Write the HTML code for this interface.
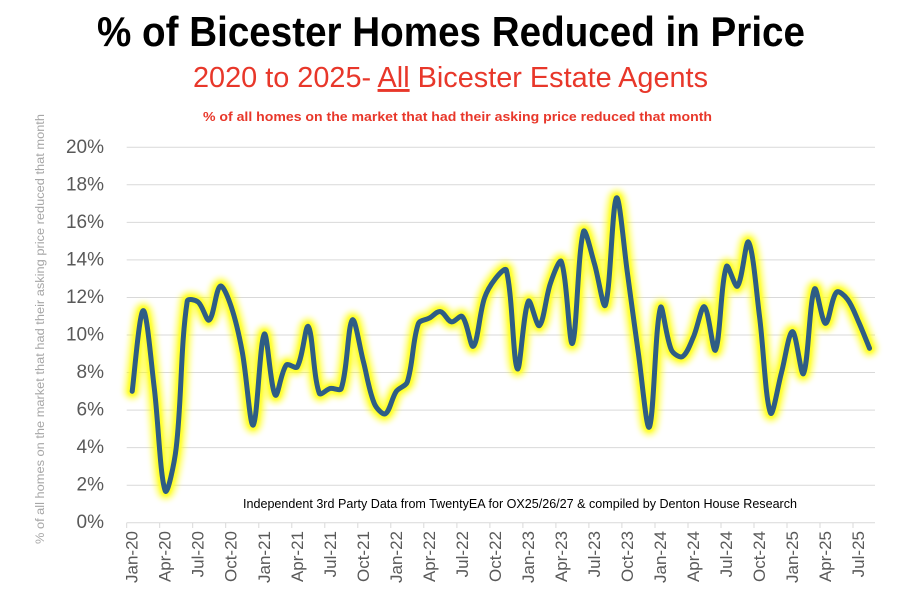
<!DOCTYPE html>
<html>
<head>
<meta charset="utf-8">
<style>
  html, body { margin: 0; padding: 0; background: #ffffff; }
  body { width: 901px; height: 606px; overflow: hidden; }
  svg { display: block; font-family: "Liberation Sans", Arial, sans-serif; }
</style>
</head>
<body>
<svg id="chart" width="901" height="606" viewBox="0 0 901 606" xmlns="http://www.w3.org/2000/svg">
  <defs>
    <filter id="glow1" x="-10%" y="-10%" width="120%" height="120%">
      <feGaussianBlur stdDeviation="2.6"/>
    </filter>
    <filter id="glow2" x="-10%" y="-10%" width="120%" height="120%">
      <feGaussianBlur stdDeviation="1.2"/>
    </filter>
  </defs>
  <rect x="0" y="0" width="901" height="606" fill="#ffffff"/>

  <!-- Titles -->
  <text x="97" y="46" font-size="42" font-weight="bold" fill="#000000" textLength="708" lengthAdjust="spacingAndGlyphs">% of Bicester Homes Reduced in Price</text>
  <text x="193" y="87" font-size="29" fill="#e8372a" textLength="515" lengthAdjust="spacingAndGlyphs">2020 to 2025- <tspan style="text-decoration:underline">All</tspan> Bicester Estate Agents</text>
  <text x="203" y="121" font-size="12.5" font-weight="bold" fill="#e8372a" textLength="509" lengthAdjust="spacingAndGlyphs">% of all homes on the market that had their asking price reduced that month</text>

  <!-- Y axis title -->
  <text transform="translate(44,329) rotate(-90)" text-anchor="middle" font-size="11.5" fill="#a6a6a6" textLength="430" lengthAdjust="spacingAndGlyphs">% of all homes on the market that had their asking price reduced that month</text>

  <!-- Gridlines -->
  <g stroke="#d9d9d9" stroke-width="1">
    <line x1="126.7" x2="875" y1="147.3" y2="147.3"/>
    <line x1="126.7" x2="875" y1="184.8" y2="184.8"/>
    <line x1="126.7" x2="875" y1="222.4" y2="222.4"/>
    <line x1="126.7" x2="875" y1="259.9" y2="259.9"/>
    <line x1="126.7" x2="875" y1="297.5" y2="297.5"/>
    <line x1="126.7" x2="875" y1="335.0" y2="335.0"/>
    <line x1="126.7" x2="875" y1="372.5" y2="372.5"/>
    <line x1="126.7" x2="875" y1="410.1" y2="410.1"/>
    <line x1="126.7" x2="875" y1="447.6" y2="447.6"/>
    <line x1="126.7" x2="875" y1="485.2" y2="485.2"/>
    <line x1="126.7" x2="875" y1="522.7" y2="522.7"/>
  </g>
  <!-- X ticks -->
  <g stroke="#d9d9d9" stroke-width="1">
    <line x1="126.7" x2="126.7" y1="522.7" y2="528"/>
    <line x1="159.7" x2="159.7" y1="522.7" y2="528"/>
    <line x1="192.7" x2="192.7" y1="522.7" y2="528"/>
    <line x1="225.7" x2="225.7" y1="522.7" y2="528"/>
    <line x1="258.8" x2="258.8" y1="522.7" y2="528"/>
    <line x1="291.8" x2="291.8" y1="522.7" y2="528"/>
    <line x1="324.8" x2="324.8" y1="522.7" y2="528"/>
    <line x1="357.8" x2="357.8" y1="522.7" y2="528"/>
    <line x1="390.8" x2="390.8" y1="522.7" y2="528"/>
    <line x1="423.8" x2="423.8" y1="522.7" y2="528"/>
    <line x1="456.9" x2="456.9" y1="522.7" y2="528"/>
    <line x1="489.9" x2="489.9" y1="522.7" y2="528"/>
    <line x1="522.9" x2="522.9" y1="522.7" y2="528"/>
    <line x1="555.9" x2="555.9" y1="522.7" y2="528"/>
    <line x1="588.9" x2="588.9" y1="522.7" y2="528"/>
    <line x1="621.9" x2="621.9" y1="522.7" y2="528"/>
    <line x1="655.0" x2="655.0" y1="522.7" y2="528"/>
    <line x1="688.0" x2="688.0" y1="522.7" y2="528"/>
    <line x1="721.0" x2="721.0" y1="522.7" y2="528"/>
    <line x1="754.0" x2="754.0" y1="522.7" y2="528"/>
    <line x1="787.0" x2="787.0" y1="522.7" y2="528"/>
    <line x1="820.0" x2="820.0" y1="522.7" y2="528"/>
    <line x1="853.0" x2="853.0" y1="522.7" y2="528"/>
  </g>

  <!-- Y tick labels -->
  <g font-size="19" fill="#595959" text-anchor="end" dominant-baseline="central">
    <text x="104" y="147.3">20%</text>
    <text x="104" y="184.8">18%</text>
    <text x="104" y="222.4">16%</text>
    <text x="104" y="259.9">14%</text>
    <text x="104" y="297.5">12%</text>
    <text x="104" y="335.0">10%</text>
    <text x="104" y="372.5">8%</text>
    <text x="104" y="410.1">6%</text>
    <text x="104" y="447.6">4%</text>
    <text x="104" y="485.2">2%</text>
    <text x="104" y="522.7">0%</text>
  </g>

  <!-- X tick labels -->
  <g font-size="17" fill="#595959" text-anchor="end" dominant-baseline="central">
    <text transform="translate(132.2,531) rotate(-90)">Jan-20</text>
    <text transform="translate(165.2,531) rotate(-90)">Apr-20</text>
    <text transform="translate(198.2,531) rotate(-90)">Jul-20</text>
    <text transform="translate(231.2,531) rotate(-90)">Oct-20</text>
    <text transform="translate(264.3,531) rotate(-90)">Jan-21</text>
    <text transform="translate(297.3,531) rotate(-90)">Apr-21</text>
    <text transform="translate(330.3,531) rotate(-90)">Jul-21</text>
    <text transform="translate(363.3,531) rotate(-90)">Oct-21</text>
    <text transform="translate(396.3,531) rotate(-90)">Jan-22</text>
    <text transform="translate(429.3,531) rotate(-90)">Apr-22</text>
    <text transform="translate(462.4,531) rotate(-90)">Jul-22</text>
    <text transform="translate(495.4,531) rotate(-90)">Oct-22</text>
    <text transform="translate(528.4,531) rotate(-90)">Jan-23</text>
    <text transform="translate(561.4,531) rotate(-90)">Apr-23</text>
    <text transform="translate(594.4,531) rotate(-90)">Jul-23</text>
    <text transform="translate(627.4,531) rotate(-90)">Oct-23</text>
    <text transform="translate(660.4,531) rotate(-90)">Jan-24</text>
    <text transform="translate(693.5,531) rotate(-90)">Apr-24</text>
    <text transform="translate(726.5,531) rotate(-90)">Jul-24</text>
    <text transform="translate(759.5,531) rotate(-90)">Oct-24</text>
    <text transform="translate(792.5,531) rotate(-90)">Jan-25</text>
    <text transform="translate(825.5,531) rotate(-90)">Apr-25</text>
    <text transform="translate(858.5,531) rotate(-90)">Jul-25</text>
  </g>

  <!-- Note -->
  <text x="243" y="508" font-size="13" fill="#000000" textLength="554" lengthAdjust="spacingAndGlyphs">Independent 3rd Party Data from TwentyEA for OX25/26/27 &amp; compiled by Denton House Research</text>

  <!-- Series -->
  <path id="g1" d="" fill="none" stroke="#ffff00" stroke-opacity="0.55" stroke-width="17" stroke-linejoin="round" stroke-linecap="round" filter="url(#glow1)"/>
  <path id="g2" d="" fill="none" stroke="#ffff2a" stroke-width="10" stroke-linejoin="round" stroke-linecap="round" filter="url(#glow2)"/>
  <path id="ln" d="" fill="none" stroke="#2e5d85" stroke-width="5" stroke-linejoin="round" stroke-linecap="round"/>
</svg>
<script>
(function(){
  var v = [7.0,11.3,7.2,1.7,4.0,11.8,11.75,10.8,12.6,11.5,9.1,5.2,
           10.05,6.8,8.4,8.3,10.45,6.9,7.15,7.15,10.8,8.6,6.35,5.8,
           7.0,7.5,10.6,10.9,11.25,10.7,10.98,9.4,11.95,13.0,13.45,8.2,
           11.8,10.5,12.75,13.9,9.55,15.5,13.8,11.6,17.3,13.3,9.0,5.1,
           11.45,9.2,8.85,9.9,11.5,9.2,13.65,12.6,14.95,11.0,5.85,8.0,
           10.18,7.95,12.45,10.62,12.28,11.9,10.71,9.29];
  var p = [];
  for (var i=0;i<v.length;i++){ p.push([132.2+11.005*i, 522.7-18.77*v[i]]); }
  function dist(a,b){ var dx=a[0]-b[0], dy=a[1]-b[1]; return Math.sqrt(dx*dx+dy*dy); }
  var n = p.length;
  // tangents with distance-based scaling (limits overshoot like Excel)
  var cOut = [], cIn = [];
  for (var i=0;i<n;i++){
    var pp = p[i>0?i-1:i], pn = p[i<n-1?i+1:i];
    var tx = pn[0]-pp[0], ty = pn[1]-pp[1];
    var dPrev = i>0 ? dist(p[i],p[i-1]) : 0;
    var dNext = i<n-1 ? dist(p[i],p[i+1]) : 0;
    var sum = dPrev + dNext;
    var fOut, fIn;
    if (i===0 || i===n-1) { fOut = 1/6; fIn = 1/6; }
    else { fOut = dNext/(3*sum); fIn = dPrev/(3*sum); }
    cOut.push([p[i][0]+tx*fOut, p[i][1]+ty*fOut]);
    cIn.push([p[i][0]-tx*fIn, p[i][1]-ty*fIn]);
  }
  var d = "M"+p[0][0].toFixed(2)+","+p[0][1].toFixed(2);
  for (var i=0;i<n-1;i++){
    var c1=cOut[i], c2=cIn[i+1], p2=p[i+1];
    d+=" C"+c1[0].toFixed(2)+","+c1[1].toFixed(2)+" "+c2[0].toFixed(2)+","+c2[1].toFixed(2)+" "+p2[0].toFixed(2)+","+p2[1].toFixed(2);
  }
  ["g1","g2","ln"].forEach(function(id){ document.getElementById(id).setAttribute("d", d); });
})();
</script>
</body>
</html>
